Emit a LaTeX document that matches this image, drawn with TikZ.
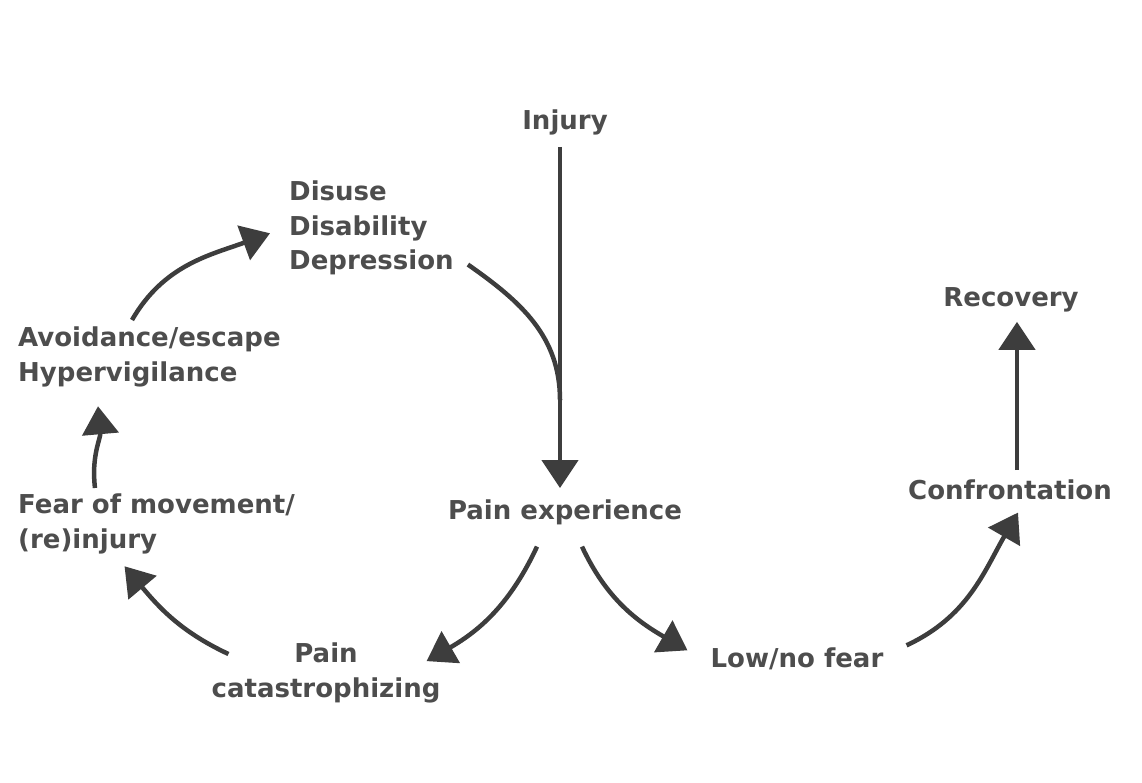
\documentclass[tikz,border=0pt]{standalone}
\usepackage{fontspec}
\setmainfont{DejaVu Sans}
\usetikzlibrary{arrows.meta}
\definecolor{txtgray}{HTML}{4D4D4D}
\definecolor{arrgray}{HTML}{3D3D3D}
\tikzset{
  lbl/.style={inner sep=0pt, text=txtgray, font=\bfseries\fontsize{26}{34.5}\selectfont},
  arr/.style={draw=arrgray, line width=4.5pt, -{Triangle[length=28pt,width=36pt]}}
}

\begin{document}
\begin{tikzpicture}[x=1pt,y=1pt]
  \useasboundingbox (0,0) rectangle (1142,782);
  % labels
  \node (injury)   [lbl, anchor=base] at (565,652) {Injury};
  \node (painexp)  [lbl, anchor=base] at (565,262) {Pain experience};
  \node (lowfear)  [lbl, anchor=base] at (797,115) {Low/no fear};
  \node (confront) [lbl, anchor=base] at (1010,282) {Confrontation};
  \node (recovery) [lbl, anchor=base] at (1011,475) {Recovery};
  \node (disuse)   [lbl, anchor=north west, align=left] at (289,601) {Disuse\\Disability\\Depression};
  \node (avoid)    [lbl, anchor=north west, align=left] at (18,455) {Avoidance/escape\\Hypervigilance};
  \node (fear)     [lbl, anchor=north west, align=left] at (18,288) {Fear of movement/\\(re)injury};
  \node (catastro) [lbl, anchor=north, align=center] at (326,139) {Pain\\catastrophizing};
  % arrows
  \draw [arr] ([shift={(-5,-11)}]injury.south) -- ([shift={(-5,12)}]painexp.north);
  \draw [draw=arrgray, line width=4.5pt] ([shift={(14,11)}]disuse.south east) to [out=-35,in=90] ([shift={(-5,100)}]painexp.north);
  \draw [arr] ([shift={(-28,-21)}]painexp.south) to [out=-115,in=30] ([shift={(-14,12)}]catastro.east);
  \draw [arr] ([shift={(17,-21)}]painexp.south) to [out=-65,in=150] ([shift={(-23,8)}]lowfear.west);
  \draw [arr] ([shift={(17,-11)}]catastro.north west) to [out=155,in=-50] ([shift={(-32,-12)}]fear.south);
  \draw [arr] ([shift={(77,6)}]fear.north west) to [out=97,in=-85] ([shift={(80,-19)}]avoid.south west);
  \draw [arr] ([shift={(114,7)}]avoid.north west) to [out=60,in=200] ([shift={(-19,-5)}]disuse.west);
  \draw [arr] ([shift={(23,13)}]lowfear.east) to [out=25,in=-120] ([shift={(8,-12)}]confront.south);
  \draw [arr] ([shift={(7,10)}]confront.north) -- ([shift={(6,-9)}]recovery.south);
\end{tikzpicture}
\end{document}
